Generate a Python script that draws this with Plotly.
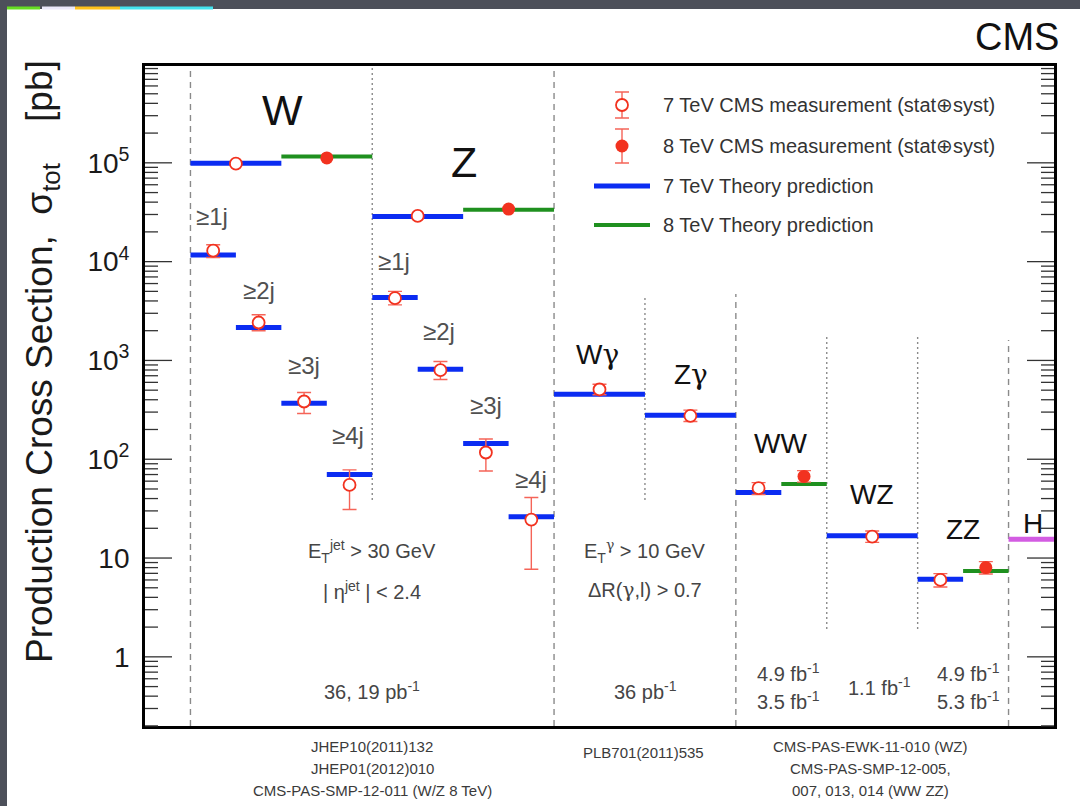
import math
import plotly.graph_objects as go

# ---------------------------------------------------------------- data (pb)
# inclusive W and Z
incl_procs = ["W", "Z"]
incl_theory_7 = [9.9e4, 2.87e4]
incl_theory_8 = [1.16e5, 3.35e4]
incl_meas_7 = [9.8e4, 2.9e4]
incl_err_7 = [4.0e3, 1.2e3]
incl_meas_8 = [1.12e5, 3.4e4]
incl_err_8 = [4.5e3, 1.4e3]

# W / Z + jets (7 TeV)
jet_labels = ["≥1j", "≥2j", "≥3j", "≥4j"]
wjets_theory = [1.17e4, 2.15e3, 369, 70]
wjets_meas = [1.29e4, 2.42e3, 384, 55]
wjets_err_up = [1.9e3, 480, 89, 23]
wjets_err_dn = [1.9e3, 420, 94, 24]
zjets_theory = [4.33e3, 816, 144, 26.1]
zjets_meas = [4.27e3, 797, 117, 24.5]
zjets_err_up = [730, 178, 43, 16.5]
zjets_err_dn = [620, 156, 41, 16.8]

# W gamma / Z gamma (7 TeV)
vgamma_procs = ["Wγ", "Zγ"]
vgamma_theory = [455, 279]
vgamma_meas = [508, 275]
vgamma_err_up = [67, 39]
vgamma_err_dn = [59, 34]

# dibosons
diboson_procs = ["WW", "WZ", "ZZ"]
diboson_theory_7 = [46, 16.8, 6.1]
diboson_meas_7 = [51, 16.5, 6.0]
diboson_err7_up = [7, 2.3, 0.96]
diboson_err7_dn = [7, 2.1, 0.9]
diboson_theory_8 = [56, None, 7.4]
diboson_meas_8 = [67, None, 8.0]
diboson_err8_up = [9.6, None, 1.2]
diboson_err8_dn = [8.4, None, 1.1]

higgs_theory = 15.5

# ---------------------------------------------------------------- geometry
FIG_W, FIG_H = 1080, 806
ML, MR, MT, MB = 145, 26, 66, 80
PW, PH = FIG_W - ML - MR, FIG_H - MT - MB
X_RANGE = [-0.5, 9.5]
Y_RANGE = [-0.70, 5.98]


def px(xpix):
    return (xpix - ML) / PW


def py(ypix):
    return (MT + PH - ypix) / PH


def ypaper_of(value):
    # paper fraction of a cross-section value on the log axis
    return (math.log10(value) - Y_RANGE[0]) / (Y_RANGE[1] - Y_RANGE[0])


BLUE = "#0b2cf2"
GREEN = "#1f901f"
MAGENTA = "#d35ce2"
RED = "#f2321f"
ERR = "#f56458"
GREY_TXT = "#454545"
TICK = "#333333"
FONT = "Liberation Sans, Arial, Helvetica, sans-serif"
GAMMA = '<span style="font-family:DejaVu Serif">γ</span>'

# slot layout: each process gets a slot [x0, x1] on the category axis
th7_x, th7_y = [], []
th8_x, th8_y = [], []
m7 = {"x": [], "y": [], "up": [], "dn": []}
m7_big = {"x": [], "y": [], "up": [], "dn": []}
m8 = {"x": [], "y": [], "up": [], "dn": []}
m8_big = {"x": [], "y": [], "up": [], "dn": []}


def seg(xs, ys, x0, x1, v):
    xs += [x0, x1, None]
    ys += [v, v, None]


def pt(store, x, v, up, dn):
    store["x"].append(x)
    store["y"].append(v)
    store["up"].append(up)
    store["dn"].append(dn)


for i in range(len(incl_procs)):
    base = 2 * i
    seg(th7_x, th7_y, base, base + 1, incl_theory_7[i])
    seg(th8_x, th8_y, base + 1, base + 2, incl_theory_8[i])
    pt(m7_big, base + 0.5, incl_meas_7[i], incl_err_7[i], incl_err_7[i])
    pt(m8_big, base + 1.5, incl_meas_8[i], incl_err_8[i], incl_err_8[i])

for base, th, me, eu, ed in [(0, wjets_theory, wjets_meas, wjets_err_up, wjets_err_dn),
                             (2, zjets_theory, zjets_meas, zjets_err_up, zjets_err_dn)]:
    for j in range(len(jet_labels)):
        x0 = base + 0.5 * j
        seg(th7_x, th7_y, x0, x0 + 0.5, th[j])
        pt(m7, x0 + 0.25, me[j], eu[j], ed[j])

for i in range(len(vgamma_procs)):
    x0 = 4 + i
    seg(th7_x, th7_y, x0, x0 + 1, vgamma_theory[i])
    pt(m7, x0 + 0.5, vgamma_meas[i], vgamma_err_up[i], vgamma_err_dn[i])

for i in range(len(diboson_procs)):
    x0 = 6 + i
    if diboson_theory_8[i] is None:
        seg(th7_x, th7_y, x0, x0 + 1, diboson_theory_7[i])
        pt(m7, x0 + 0.5, diboson_meas_7[i], diboson_err7_up[i], diboson_err7_dn[i])
    else:
        seg(th7_x, th7_y, x0, x0 + 0.5, diboson_theory_7[i])
        seg(th8_x, th8_y, x0 + 0.5, x0 + 1, diboson_theory_8[i])
        pt(m7, x0 + 0.25, diboson_meas_7[i], diboson_err7_up[i], diboson_err7_dn[i])
        pt(m8, x0 + 0.75, diboson_meas_8[i], diboson_err8_up[i], diboson_err8_dn[i])

fig = go.Figure()

fig.add_trace(go.Scatter(x=th7_x, y=th7_y, mode="lines",
                         line=dict(color=BLUE, width=5), hoverinfo="skip"))
fig.add_trace(go.Scatter(x=th8_x, y=th8_y, mode="lines",
                         line=dict(color=GREEN, width=4), hoverinfo="skip"))
fig.add_trace(go.Scatter(x=[9, 9.5], y=[higgs_theory, higgs_theory], mode="lines",
                         line=dict(color=MAGENTA, width=5), hoverinfo="skip"))


def meas_trace(store, filled, cap):
    return go.Scatter(
        x=store["x"], y=store["y"], mode="markers",
        marker=dict(symbol="circle", size=13 if filled else 12,
                    color=RED if filled else "white",
                    line=dict(color=RED, width=0 if filled else 1.8)),
        error_y=dict(type="data", symmetric=False, array=store["up"],
                     arrayminus=store["dn"], color=ERR, thickness=1.4, width=cap),
        hoverinfo="skip")


fig.add_trace(meas_trace(m7_big, False, 3))
fig.add_trace(meas_trace(m8_big, True, 3))
fig.add_trace(meas_trace(m7, False, 7))
fig.add_trace(meas_trace(m8, True, 7))

# legend glyphs on a pixel-scaled overlay axis
leg_rows = [105, 146, 186, 225]
leg_text = ["7 TeV CMS measurement (stat⊕syst)",
            "8 TeV CMS measurement (stat⊕syst)",
            "7 TeV Theory prediction",
            "8 TeV Theory prediction"]
fig.add_trace(go.Scatter(x=[622], y=[leg_rows[0]], xaxis="x2", yaxis="y2", mode="markers",
                         marker=dict(size=12, color="white", line=dict(color=RED, width=1.8)),
                         error_y=dict(type="constant", value=13, color=ERR, thickness=1.4, width=7),
                         hoverinfo="skip"))
fig.add_trace(go.Scatter(x=[622], y=[leg_rows[1]], xaxis="x2", yaxis="y2", mode="markers",
                         marker=dict(size=13, color=RED),
                         error_y=dict(type="constant", value=17, color=ERR, thickness=1.4, width=7),
                         hoverinfo="skip"))
fig.add_trace(go.Scatter(x=[594, 650], y=[leg_rows[2]] * 2, xaxis="x2", yaxis="y2", mode="lines",
                         line=dict(color=BLUE, width=5), hoverinfo="skip"))
fig.add_trace(go.Scatter(x=[594, 650], y=[leg_rows[3]] * 2, xaxis="x2", yaxis="y2", mode="lines",
                         line=dict(color=GREEN, width=4), hoverinfo="skip"))

shapes = []
# slide background panel and accent strip
shapes.append(dict(type="rect", xref="paper", yref="paper", layer="below",
                   x0=px(7), x1=px(1080), y0=py(806), y1=py(9),
                   fillcolor="white", line=dict(width=0)))
for c, a, b in [("#66dd22", 7, 40), ("#ebe8fa", 42, 75), ("#ffc21a", 75, 120), ("#44e3ee", 120, 213)]:
    shapes.append(dict(type="rect", xref="paper", yref="paper", layer="below",
                       x0=px(a), x1=px(b), y0=py(9.5), y1=py(6.5),
                       fillcolor=c, line=dict(width=0)))

# group separators
sep = [(0, "dash", 66, 726), (2, "dot", 66, 500), (4, "dash", 66, 726),
       (5, "dot", 295, 500), (6, "dash", 294, 726), (7, "dot", 337, 629),
       (8, "dot", 337, 629), (9, "dash", 340, 726)]
for xv, style, ya, yb in sep:
    shapes.append(dict(type="line", xref="x", yref="paper", layer="below",
                       x0=xv, x1=xv, y0=py(yb), y1=py(ya),
                       line=dict(color="#8a8a8a", width=1.4,
                                 dash="6px,5px" if style == "dash" else "2px,3px")))

# y-axis tick marks: long at decades, short at 2..9, on both frame sides
y_lo, y_hi = 10 ** Y_RANGE[0], 10 ** Y_RANGE[1]
for k in range(-1, 7):
    for d in range(1, 10):
        v = d * 10.0 ** k
        if not (y_lo < v < y_hi):
            continue
        ln = 27 if d == 1 else 13
        yv = ypaper_of(v)
        for a, b in [(ML, ML + ln), (FIG_W - MR - ln, FIG_W - MR)]:
            shapes.append(dict(type="line", xref="paper", yref="paper", layer="above",
                               x0=px(a), x1=px(b), y0=yv, y1=yv,
                               line=dict(color=TICK, width=1.3)))

ann = []


def text(x, y, s, size, color="#111111", anchor="center"):
    ann.append(dict(xref="paper", yref="paper", x=px(x), y=py(y), text=s, showarrow=False,
                    xanchor=anchor, yanchor="middle",
                    font=dict(family=FONT, size=size, color=color)))


text(1061, 37, "CMS", 38, "#111111", "right")
text(282, 110, "W", 43)
text(464, 162, "Z", 43)
for j, lab in enumerate(jet_labels):
    text([212, 259, 304, 348][j], [216, 290, 365, 436][j], lab, 24, "#505050")
    text([394, 439, 486, 531][j], [261, 331, 405, 479][j], lab, 24, "#505050")
text(597, 354, "W" + GAMMA, 28)
text(691, 374, "Z" + GAMMA, 28)
text(780, 443, "WW", 28)
text(872, 494, "WZ", 28)
text(963, 529, "ZZ", 28)
text(1033, 523, "H", 28)

text(372, 551, "E<sub>T</sub><sup>jet</sup> &gt; 30 GeV", 20, GREY_TXT)
text(372, 590, "| η<sup>jet</sup> | &lt; 2.4", 20, GREY_TXT)
text(645, 551, "E<sub>T</sub><sup>" + GAMMA + "</sup> &gt; 10 GeV", 20, GREY_TXT)
text(645, 590, "ΔR(" + GAMMA + ",l) &gt; 0.7", 20, GREY_TXT)

text(372, 690, "36, 19 pb<sup>-1</sup>", 20, GREY_TXT)
text(645, 690, "36 pb<sup>-1</sup>", 20, GREY_TXT)
text(788, 672, "4.9 fb<sup>-1</sup>", 20, GREY_TXT)
text(788, 700, "3.5 fb<sup>-1</sup>", 20, GREY_TXT)
text(879, 686, "1.1 fb<sup>-1</sup>", 20, GREY_TXT)
text(968, 672, "4.9 fb<sup>-1</sup>", 20, GREY_TXT)
text(968, 700, "5.3 fb<sup>-1</sup>", 20, GREY_TXT)

for yy, s in zip([746, 768, 790], ["JHEP10(2011)132", "JHEP01(2012)010",
                                    "CMS-PAS-SMP-12-011 (W/Z 8 TeV)"]):
    text(372, yy, s, 15, "#3a3a3a")
text(643, 752, "PLB701(2011)535", 15, "#3a3a3a")
for yy, s in zip([746, 768, 790], ["CMS-PAS-EWK-11-010 (WZ)", "CMS-PAS-SMP-12-005,",
                                    "007, 013, 014 (WW ZZ)"]):
    text(870, yy, s, 15, "#3a3a3a")

for yy, s in zip(leg_rows, leg_text):
    text(661, yy, s, 20, "#333333", "left")

ann.append(dict(xref="paper", yref="paper", x=px(42), y=py(362), textangle=-90,
                text="Production Cross Section,  σ<sub>tot</sub>    [pb]", showarrow=False,
                xanchor="center", yanchor="middle",
                font=dict(family=FONT, size=37, color="#1a1a1a")))

fig.update_layout(
    width=FIG_W, height=FIG_H,
    margin=dict(l=ML, r=MR, t=MT, b=MB),
    paper_bgcolor="#4d505a", plot_bgcolor="white",
    showlegend=False,
    shapes=shapes, annotations=ann,
    xaxis=dict(range=X_RANGE, showgrid=False, zeroline=False, showticklabels=False,
               ticks="", showline=True, linecolor="black", linewidth=3, mirror=True),
    yaxis=dict(type="log", range=Y_RANGE, showgrid=False, zeroline=False,
               tickmode="linear", tick0=0, dtick=1, exponentformat="power",
               ticks="", tickfont=dict(family=FONT, size=22.4, color="#1a1a1a"),
               ticklabelstandoff=8,
               showline=True, linecolor="black", linewidth=3, mirror=True),
    xaxis2=dict(range=[ML, FIG_W - MR], overlaying="x", visible=False),
    yaxis2=dict(range=[MT + PH, MT], overlaying="y", visible=False),
)

fig.write_html("out.html")
